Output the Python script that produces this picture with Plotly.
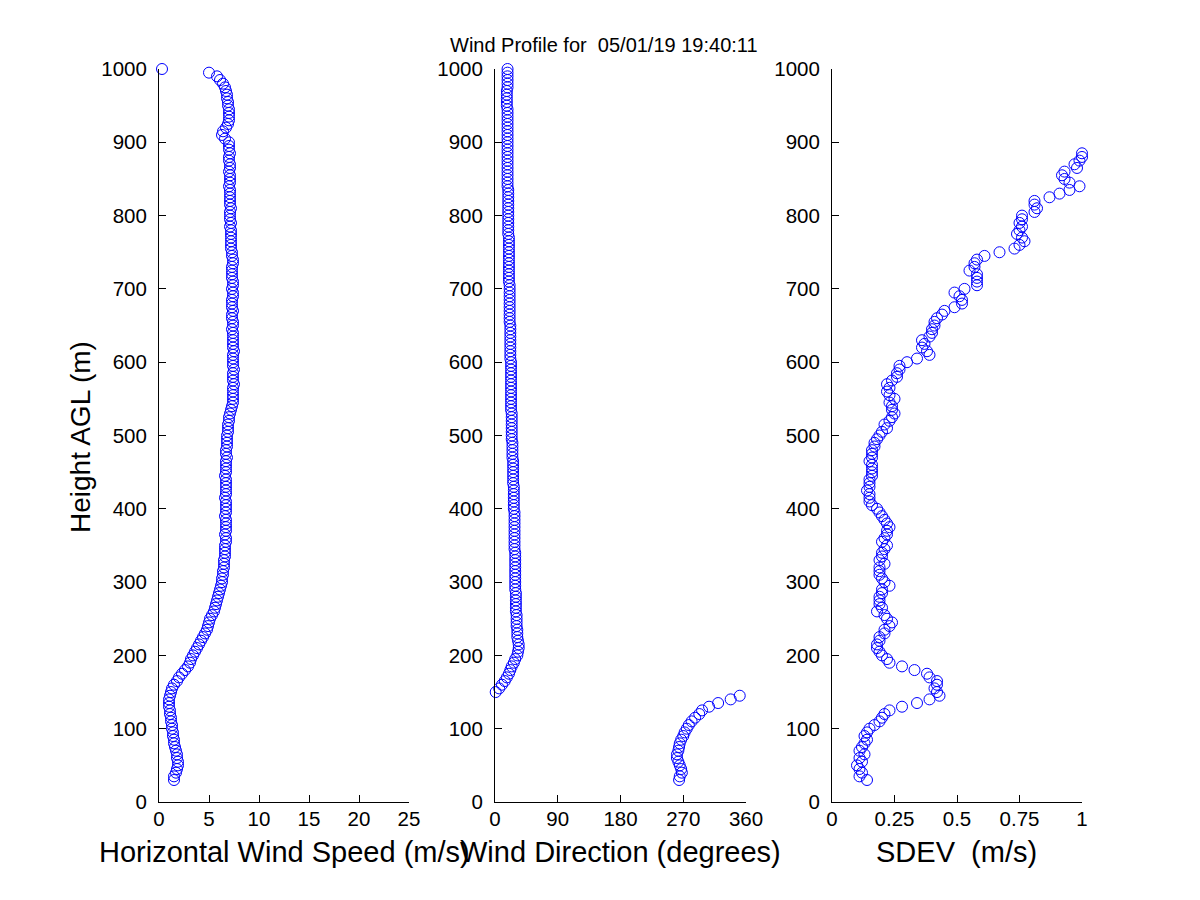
import plotly.graph_objects as go

# Range gates (m AGL), 5 m spacing
heights = list(range(30, 1005, 5))

# Horizontal wind speed (m/s), one value per gate 30..1000
speed = [
    1.5, 1.5, 1.7, 1.8, 1.9, 1.9, 1.8, 1.8, 1.7, 1.6,
    1.5, 1.5, 1.4, 1.4, 1.3, 1.3, 1.2, 1.2, 1.1, 1.1,
    1.0, 1.0, 1.0, 1.1, 1.2, 1.3, 1.5, 1.8, 2.0, 2.3,
    2.6, 2.9, 3.1, 3.2, 3.4, 3.6, 3.8, 4.0, 4.2, 4.4,
    4.6, 4.8, 4.9, 5.0, 5.1, 5.3, 5.5, 5.6, 5.7, 5.8,
    5.9, 6.0, 6.1, 6.2, 6.3, 6.3, 6.4, 6.4, 6.5, 6.5,
    6.5, 6.6, 6.6, 6.6, 6.6, 6.7, 6.7, 6.6, 6.7, 6.7,
    6.7, 6.7, 6.6, 6.7, 6.7, 6.7, 6.7, 6.6, 6.7, 6.7,
    6.7, 6.7, 6.7, 6.6, 6.7, 6.7, 6.7, 6.7, 6.8, 6.7,
    6.7, 6.8, 6.8, 6.8, 6.8, 6.9, 6.9, 6.9, 7.0, 7.0,
    7.1, 7.2, 7.3, 7.4, 7.4, 7.4, 7.4, 7.4, 7.5, 7.4,
    7.4, 7.4, 7.5, 7.4, 7.4, 7.4, 7.4, 7.5, 7.4, 7.4,
    7.4, 7.4, 7.4, 7.3, 7.4, 7.4, 7.3, 7.3, 7.4, 7.3,
    7.3, 7.3, 7.4, 7.4, 7.3, 7.4, 7.4, 7.3, 7.3, 7.3,
    7.3, 7.4, 7.4, 7.3, 7.3, 7.2, 7.2, 7.2, 7.2, 7.2,
    7.2, 7.1, 7.2, 7.1, 7.1, 7.1, 7.2, 7.1, 7.1, 7.1,
    7.1, 7.1, 7.0, 7.1, 7.1, 7.1, 7.0, 7.1, 7.1, 7.0,
    7.0, 7.1, 7.0, 7.0, 7.0, 6.6, 6.3, 6.4, 6.7, 6.9,
    7.0, 7.0, 7.0, 7.0, 6.9, 6.9, 6.8, 6.8, 6.7, 6.6,
    6.4, 6.1, 5.8, 5.0, 0.3,
]

# Wind direction (degrees), one value per gate 30..1000
direction = [
    264, 265, 268, 267, 265, 263, 261, 261, 263, 264,
    265, 267, 270, 272, 275, 278, 282, 287, 293, 297,
    307, 320, 338, 351, 1, 6, 10, 14, 17, 20,
    22, 24, 27, 29, 32, 33, 34, 34, 33, 32,
    32, 32, 31, 31, 31, 31, 30, 30, 30, 30,
    30, 30, 29, 29, 29, 29, 29, 29, 29, 29,
    29, 29, 29, 28, 28, 28, 28, 28, 28, 28,
    28, 28, 28, 28, 27, 27, 27, 27, 27, 27,
    27, 26, 26, 26, 26, 26, 26, 26, 25, 25,
    25, 25, 25, 24, 24, 24, 24, 24, 24, 24,
    24, 23, 23, 23, 23, 23, 23, 23, 23, 23,
    23, 23, 23, 23, 23, 22, 22, 22, 22, 22,
    22, 22, 22, 22, 22, 21, 21, 21, 21, 21,
    21, 21, 21, 21, 21, 21, 20, 20, 20, 20,
    20, 20, 20, 20, 20, 20, 20, 20, 20, 19,
    19, 19, 19, 19, 19, 19, 19, 19, 19, 19,
    19, 19, 18, 18, 18, 18, 18, 18, 18, 18,
    18, 18, 18, 18, 18, 18, 18, 18, 18, 18,
    18, 18, 18, 18, 17, 17, 17, 17, 17, 18,
    18, 18, 18, 18, 18,
]

# Standard deviation (m/s), gates 30..885 (higher gates fall beyond the 0-1 axis)
sdev = [
    0.14, 0.11, 0.12, 0.11, 0.10, 0.12, 0.11, 0.13, 0.11, 0.12,
    0.13, 0.14, 0.13, 0.14, 0.15, 0.17, 0.19, 0.20, 0.21, 0.23,
    0.28, 0.34, 0.39, 0.43, 0.42, 0.41, 0.42, 0.42, 0.39, 0.38,
    0.33, 0.28, 0.23, 0.22, 0.20, 0.19, 0.18, 0.18, 0.19, 0.19,
    0.21, 0.21, 0.23, 0.24, 0.22, 0.21, 0.18, 0.20, 0.19, 0.19,
    0.19, 0.20, 0.20, 0.23, 0.21, 0.20, 0.19, 0.19, 0.19, 0.21,
    0.19, 0.20, 0.20, 0.21, 0.22, 0.20, 0.21, 0.22, 0.22, 0.23,
    0.22, 0.21, 0.20, 0.19, 0.18, 0.16, 0.15, 0.15, 0.15, 0.14,
    0.15, 0.15, 0.15, 0.16, 0.16, 0.16, 0.16, 0.15, 0.16, 0.16,
    0.16, 0.17, 0.17, 0.18, 0.19, 0.20, 0.22, 0.21, 0.23, 0.24,
    0.25, 0.24, 0.24, 0.23, 0.25, 0.23, 0.22, 0.23, 0.22, 0.24,
    0.26, 0.26, 0.27, 0.27, 0.30, 0.34, 0.39, 0.38, 0.36, 0.37,
    0.36, 0.39, 0.40, 0.40, 0.41, 0.41, 0.42, 0.44, 0.45, 0.49,
    0.52, 0.52, 0.51, 0.49, 0.53, 0.58, 0.58, 0.58, 0.58, 0.55,
    0.57, 0.57, 0.58, 0.61, 0.67, 0.73, 0.75, 0.77, 0.76, 0.74,
    0.75, 0.76, 0.75, 0.76, 0.76, 0.81, 0.82, 0.81, 0.81, 0.87,
    0.91, 0.95, 0.99, 0.95, 0.93, 0.92, 0.93, 0.98, 0.97, 0.99,
    1.00, 1.00,
]
sdev_heights = heights[:len(sdev)]

speed_ticks = [0, 5, 10, 15, 20, 25]
dir_ticks = [0, 90, 180, 270, 360]
sdev_ticks = [0, 0.25, 0.5, 0.75, 1]
sdev_ticktext = ["0", "0.25", "0.5", "0.75", "1"]
height_ticks = list(range(0, 1100, 100))

title_text = "Wind Profile for  05/01/19 19:40:11"
x_titles = ["Horizontal Wind Speed (m/s)", "Wind Direction (degrees)", "SDEV  (m/s)"]
y_title = "Height AGL (m)"

W, H = 1200, 900
DX, DY = 6, 7  # page offset of the plot inside the browser window
FONT = "Liberation Sans, Arial, sans-serif"
BLUE = "rgb(0,0,255)"


def px(p):
    return (p - DX) / W


def py(p):
    return 1 - (p - DY) / H


doms = [(px(157), px(407)), (px(493), px(744)), (px(830), px(1080))]
ydom = (py(801), py(68))

marker = dict(symbol="circle-open", size=11, color=BLUE, line=dict(width=1, color=BLUE))

fig = go.Figure()
fig.add_trace(go.Scatter(x=speed, y=heights, mode="markers", marker=marker,
                         xaxis="x", yaxis="y", cliponaxis=False, showlegend=False))
fig.add_trace(go.Scatter(x=direction, y=heights, mode="markers", marker=marker,
                         xaxis="x2", yaxis="y2", cliponaxis=False, showlegend=False))
fig.add_trace(go.Scatter(x=sdev, y=sdev_heights, mode="markers", marker=marker,
                         xaxis="x3", yaxis="y3", cliponaxis=False, showlegend=False))

axis_common = dict(showline=True, linecolor="black", linewidth=1, mirror=False,
                   ticks="inside", ticklen=7, tickcolor="black", tickwidth=1,
                   showgrid=False, zeroline=False, automargin=False,
                   tickfont=dict(family=FONT, size=20.5, color="black"))

xranges = [[0, 25], [0, 360], [0, 1]]
xticks = [(speed_ticks, [str(t) for t in speed_ticks]),
          (dir_ticks, [str(t) for t in dir_ticks]),
          (sdev_ticks, sdev_ticktext)]

layout = dict(width=W, height=H, margin=dict(l=0, r=0, t=0, b=0),
              paper_bgcolor="white", plot_bgcolor="white", showlegend=False)
for i in range(3):
    sfx = "" if i == 0 else str(i + 1)
    layout["xaxis" + sfx] = dict(axis_common, domain=list(doms[i]), range=xranges[i],
                                 tickvals=xticks[i][0], ticktext=xticks[i][1],
                                 anchor="y" + sfx, ticklabelstandoff=-2)
    layout["yaxis" + sfx] = dict(axis_common, domain=list(ydom), range=[0, 1000],
                                 tickvals=height_ticks,
                                 ticktext=[str(t) for t in height_ticks],
                                 anchor="x" + sfx, ticklabelstandoff=7)
fig.update_layout(**layout)

ann = [dict(text=title_text, x=px(602), y=py(44), xref="paper", yref="paper",
            showarrow=False, font=dict(family=FONT, size=20, color="black"),
            xanchor="center", yanchor="middle")]
for i, t in enumerate(x_titles):
    cx = (doms[i][0] + doms[i][1]) / 2
    ann.append(dict(text=t, x=cx, y=py(851), xref="paper", yref="paper",
                    showarrow=False, font=dict(family=FONT, size=29, color="black"),
                    xanchor="center", yanchor="middle"))
ann.append(dict(text=y_title, x=px(78), y=py(436), xref="paper", yref="paper",
                showarrow=False, textangle=-90,
                font=dict(family=FONT, size=28, color="black"),
                xanchor="center", yanchor="middle"))
fig.update_layout(annotations=ann)

fig.write_html("out.html")
